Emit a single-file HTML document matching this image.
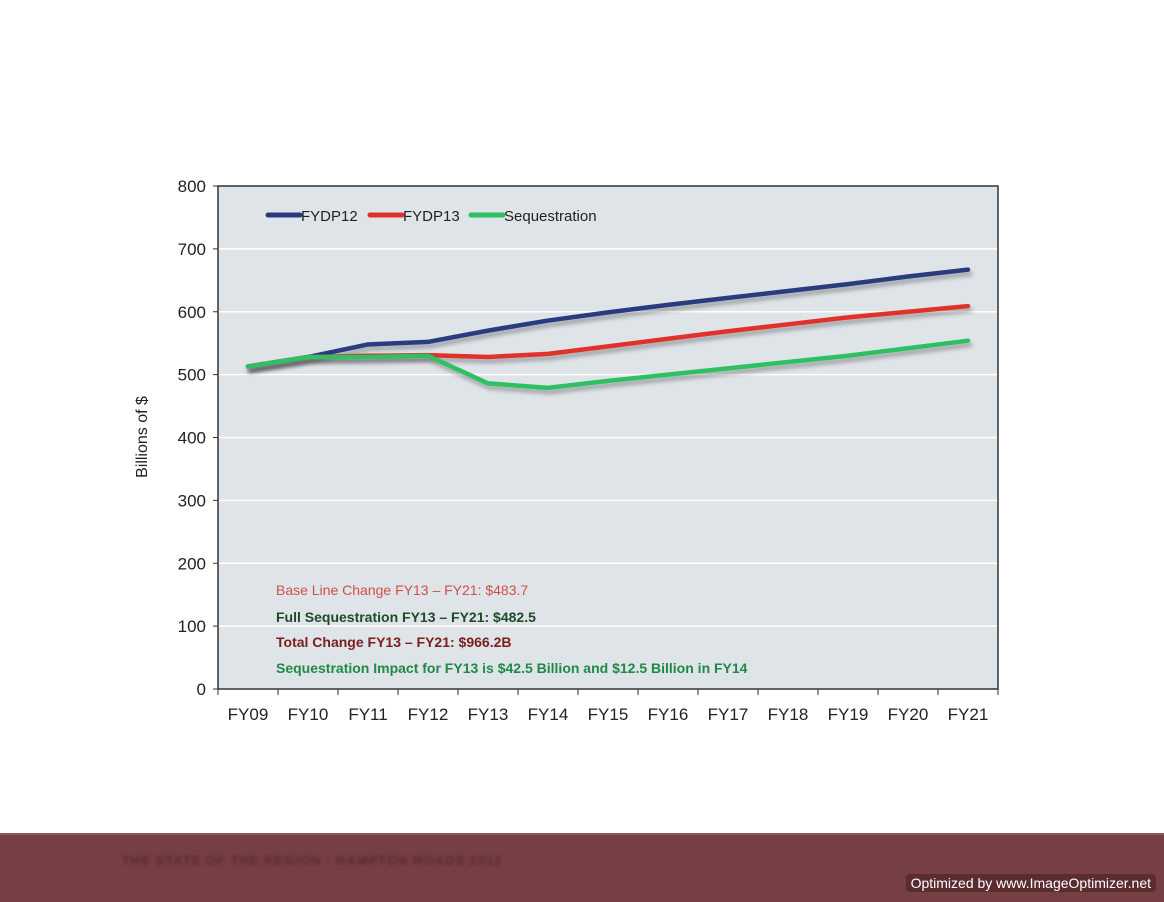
<!DOCTYPE html>
<html><head><meta charset="utf-8"><style>
body{margin:0;width:1164px;height:900px;background:#fff;overflow:hidden;font-family:"Liberation Sans",sans-serif;position:relative}
#footer{position:absolute;left:0;top:833px;width:1164px;height:67px;background:#763f44;border-top:2px solid #8a5a5e}
#footer .t{position:absolute;left:122px;top:18px;color:#5a2a2e;font-size:13px;font-weight:bold;filter:blur(1.5px);letter-spacing:1px}
#badge{position:absolute;right:8px;top:874px;background:#5a2c30;color:#fff;font-size:14px;padding:1px 5px;border-radius:4px}
</style></head><body>
<svg id="chart" width="1164" height="830" style="position:absolute;left:0;top:0" font-family="Liberation Sans, sans-serif">
<defs><filter id="sh" x="-5%" y="-20%" width="110%" height="140%"><feDropShadow dx="2" dy="4" stdDeviation="2" flood-color="#000" flood-opacity="0.3"/></filter></defs>
<g id="g"></g>
</svg>
<div id="footer"><span class="t">THE STATE OF THE REGION · HAMPTON ROADS 2012</span></div>
<div id="badge">Optimized by www.ImageOptimizer.net</div>
<script>
const categories=["FY09","FY10","FY11","FY12","FY13","FY14","FY15","FY16","FY17","FY18","FY19","FY20","FY21"];
const fydp12=[513,528,548,552,570,586,599,611,622,633,644,656,667];
const fydp13=[513,528,530,531,528,533,545,557,569,580,591,600,609];
const sequestration=[513,528,528,530,486,479,490,500,510,520,530,542,554];
const yTicks=[0,100,200,300,400,500,600,700,800];
const L=218,R=998,T=186,B=689,bw=(R-L)/categories.length;
const x=i=>L+bw*(i+0.5), y=v=>B-(v/800)*(B-T);
const NS="http://www.w3.org/2000/svg", g=document.getElementById('g');
function mk(t,a,p){const e=document.createElementNS(NS,t);for(const k in a)e.setAttribute(k,a[k]);(p||g).appendChild(e);return e;}
let bg=mk('rect',{x:L,y:T,width:R-L,height:B-T,fill:'#dfe4e8'});


yTicks.forEach(v=>{
 if(v>0&&v<800){let gl=mk('line',{x1:L,x2:R,y1:y(v),y2:y(v),stroke:'#fff','stroke-width':1.5});
 
 }
 mk('line',{x1:L-5,x2:L,y1:y(v),y2:y(v),stroke:'#333'});
 let t=mk('text',{x:L-12,y:y(v)+6,'text-anchor':'end','font-size':17,fill:'#222'});t.textContent=v;
 
 
});
let fr=mk('rect',{x:L,y:T,width:R-L,height:B-T,fill:'none',stroke:'#333','stroke-width':1.5});


categories.forEach((c,i)=>{
 mk('line',{x1:L+bw*i,x2:L+bw*i,y1:B,y2:B+6,stroke:'#333'});
 let t=mk('text',{x:x(i),y:B+31,'text-anchor':'middle','font-size':17,fill:'#222'});t.textContent=c;
 
 
});
mk('line',{x1:R,x2:R,y1:B,y2:B+6,stroke:'#333'});
let yt=mk('text',{transform:'translate(147,437) rotate(-90)','text-anchor':'middle','font-size':16,fill:'#222'});yt.textContent='Billions of $';


const series=[[fydp12,'#2b3a7e','fydp12'],[fydp13,'#e0302c','fydp13'],[sequestration,'#2ec063','sequestration']];
series.forEach(([d,c,n])=>{
 let p=mk('polyline',{points:d.map((v,i)=>x(i)+','+y(v)).join(' '),fill:'none',stroke:c,'stroke-width':4.5,'stroke-linejoin':'round','stroke-linecap':'round',filter:'url(#sh)'});
 
 
});
const leg=[['FYDP12','#2b3a7e',268],['FYDP13','#e0302c',370],['Sequestration','#2ec063',471]];
leg.forEach(([l,c,lx])=>{
 let gg=mk('g',{});
 
 
 mk('line',{x1:lx,x2:lx+32,y1:215,y2:215,stroke:c,'stroke-width':5,'stroke-linecap':'round'},gg);
 let t=mk('text',{x:lx+33,y:221,'font-size':15,fill:'#222'},gg);t.textContent=l;
});
const notes=[['Base Line Change FY13 – FY21: $483.7','#d0504a','normal',595],['Full Sequestration FY13 – FY21: $482.5','#1e4a2a','bold',622],['Total Change FY13 – FY21: $966.2B','#7a1e1e','bold',647],['Sequestration Impact for FY13 is $42.5 Billion and $12.5 Billion in FY14','#1f8a45','bold',673]];
notes.forEach(([s,c,w,yy])=>{let t=mk('text',{x:276,y:yy,'font-size':14,fill:c,'font-weight':w});t.textContent=s;
 
 });
</script>
</body></html>
